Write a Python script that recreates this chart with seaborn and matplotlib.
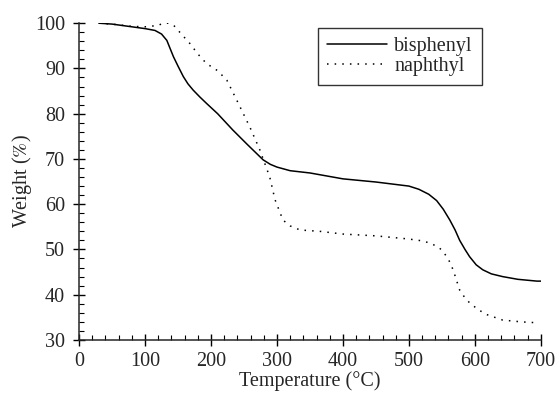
import numpy as np
import pandas as pd
import matplotlib
matplotlib.use("Agg")
import matplotlib.pyplot as plt
import seaborn as sns
from matplotlib.ticker import MultipleLocator

# TGA curves
bis_temp = [30, 50, 75, 100, 115, 125, 133, 143, 150, 158, 165, 173, 183, 193, 210, 233, 255, 279,
            290, 300, 320, 350, 400, 450, 500, 515, 530, 542, 552, 562, 570, 577, 585, 592,
            602, 612, 625, 642, 665, 694, 700]
bis_weight = [100, 99.8, 99.3, 98.8, 98.4, 97.6, 96.2, 92.6, 90.5, 88.2, 86.6, 85.2, 83.7, 82.3, 80.0, 76.4, 73.2, 69.8,
              68.8, 68.2, 67.4, 66.9, 65.6, 64.9, 64.0, 63.3, 62.2, 60.8, 58.9, 56.5, 54.3, 52.0, 50.0, 48.4,
              46.6, 45.5, 44.6, 44.0, 43.4, 43.0, 43.0]

naph_temp = [30, 50, 80, 100, 120, 127, 135, 143, 155, 168, 180, 193, 210, 224, 239, 259, 274,
             289, 297, 309, 320, 335, 365, 400, 450, 500, 520, 532, 545, 552, 560, 567, 577,
             585, 592, 605, 618, 642, 670, 694]
naph_weight = [100, 99.8, 99.3, 99.2, 99.5, 100, 100, 99.6, 97.6, 95.5, 93.2, 91.1, 89.5, 87.4, 83, 77, 72,
               66, 61, 56.5, 55.2, 54.3, 54.0, 53.4, 53.0, 52.3, 51.9, 51.4, 50.5, 49.5, 47.8, 45.5, 41,
               39.3, 38.2, 36.7, 35.6, 34.4, 34.0, 33.8]

df = pd.concat([
    pd.DataFrame({"temp": bis_temp, "weight": bis_weight, "series": "bisphenyl"}),
    pd.DataFrame({"temp": naph_temp, "weight": naph_weight, "series": "naphthyl"}),
])

sns.set_style("ticks")
plt.rcParams["font.family"] = ["Liberation Serif", "DejaVu Serif"]
plt.rcParams["mathtext.fontset"] = "stix"

fig = plt.figure(figsize=(5.57, 3.93), dpi=100)
ax = fig.add_axes([0.142, 0.135, 0.829, 0.806])

sns.lineplot(data=df, x="temp", y="weight", hue="series", style="series",
             palette=["black", "black"], dashes=[(None, None), (1, 4)],
             linewidth=1.1, sort=False, ax=ax, estimator=None)

fs = 14.5
ax.set_xlim(0, 700)
ax.set_ylim(30, 100)
ax.xaxis.set_major_locator(MultipleLocator(100))
ax.xaxis.set_minor_locator(MultipleLocator(20))
ax.yaxis.set_major_locator(MultipleLocator(10))
ax.yaxis.set_minor_locator(MultipleLocator(2))
ax.tick_params(which="both", labelsize=fs, color="black")
ax.tick_params(which="major", direction="inout", length=8, width=1, pad=6)
ax.tick_params(axis="x", which="major", pad=5)
ax.tick_params(which="minor", direction="in", length=3.5, width=0.8)
sns.despine(ax=ax)
for s in ["left", "bottom"]:
    ax.spines[s].set_linewidth(1.1)

ax.set_xlabel("Temperature (°C)", fontsize=fs, labelpad=0)
ax.set_ylabel("Weight ($\\it{\\%}$)", fontsize=fs, labelpad=1)

leg = ax.legend(loc="upper left", bbox_to_anchor=(0.517, 0.985), fontsize=fs, frameon=True,
                fancybox=False, edgecolor="black", handlelength=3.0, handletextpad=0.35,
                borderpad=0.45, labelspacing=0.05, borderaxespad=0, title=None)
leg.get_frame().set_linewidth(1.0)

fig.savefig("out.png", dpi=100)
